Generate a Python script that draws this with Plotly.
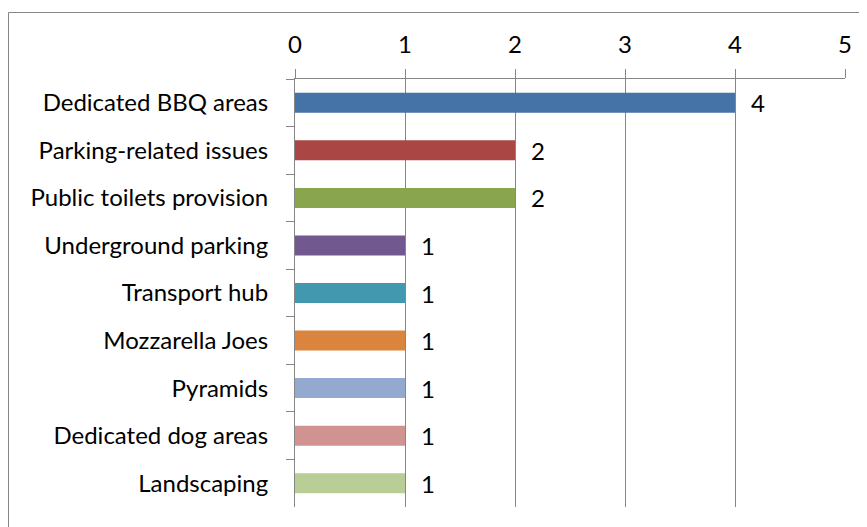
import plotly.graph_objects as go

categories = ["Dedicated BBQ areas", "Parking-related issues", "Public toilets provision",
              "Underground parking", "Transport hub", "Mozzarella Joes", "Pyramids",
              "Dedicated dog areas", "Landscaping"]
values = [4, 2, 2, 1, 1, 1, 1, 1, 1]
colors = ["#4572A7", "#AA4643", "#89A54E", "#71588F", "#4198AF",
          "#DB843D", "#93A9CF", "#D19392", "#B9CD96"]
x_ticks = [0, 1, 2, 3, 4, 5]

OFF = 8  # page body margin
W, H = 867 - OFF, 527 - OFF
L, R, T, B = 295 - OFF, 22, 79 - OFF, 20
pw, ph = W - L - R, H - T - B
grey = "#868686"
font = "Lato, Carlito, Calibri, sans-serif"
fs = 24

fig = go.Figure()
fig.add_trace(go.Bar(
    x=values, y=categories, orientation="h",
    marker=dict(color=colors, line=dict(width=0)),
    width=0.42, showlegend=False, hoverinfo="x+y",
))

for c, v in zip(categories, values):
    fig.add_annotation(x=v, y=c, text=str(v), showarrow=False, xanchor="left",
                       xshift=14, font=dict(size=fs, color="black", family=font))

fig.update_layout(
    width=W, height=H,
    margin=dict(l=L, r=R, t=T, b=B, pad=0, autoexpand=False),
    paper_bgcolor="white", plot_bgcolor="white",
    font=dict(family=font, size=fs, color="black"),
    xaxis=dict(side="top", range=[0, 5], tickvals=x_ticks, showline=True, linecolor=grey,
               linewidth=1, ticks="outside", ticklen=9, tickcolor=grey, showgrid=True,
               gridcolor=grey, gridwidth=1, zeroline=False, ticklabelstandoff=6,
               automargin=False, fixedrange=True),
    yaxis=dict(autorange="reversed", showline=True, linecolor=grey, linewidth=1,
               ticks="outside", ticklen=8, tickcolor=grey, tickson="boundaries",
               showgrid=False, ticklabelstandoff=21, automargin=False, fixedrange=True),
    shapes=[dict(type="rect", xref="paper", yref="paper",
                 x0=-(L - 0.5) / pw, x1=1.2, y0=-0.2, y1=1 + (T - 4.5) / ph,
                 line=dict(color=grey, width=1), fillcolor="rgba(0,0,0,0)", layer="below")],
)

fig.write_html("out.html")
